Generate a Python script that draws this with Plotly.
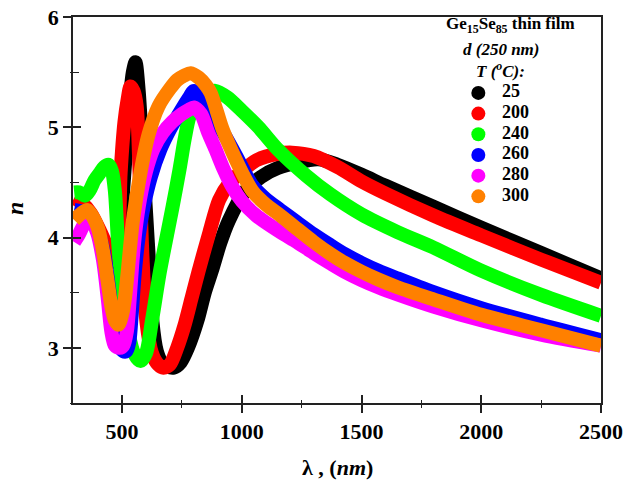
import plotly.graph_objects as go

# ---------------- data ----------------
temps = ["25", "200", "240", "260", "280", "300"]
colors = ["#000000", "#ff0000", "#00ff00", "#0000ff", "#ff00ff", "#ff8000"]

x_25 = [300, 340, 380, 420, 450, 470, 490, 510, 530, 545, 556, 569, 590, 611, 627, 645, 665, 690,
        715, 745, 775, 815, 845, 875, 910, 945, 1010, 1080, 1150, 1230, 1320, 1400, 1500, 1600,
        1800, 2000, 2250, 2500]
n_25 = [4.24, 4.21, 4.13, 3.98, 3.85, 3.78, 4.05, 4.6, 5.2, 5.5, 5.59, 5.34, 4.59, 3.83, 3.23, 2.97,
        2.87, 2.83, 2.82, 2.87, 3.0, 3.25, 3.5, 3.7, 3.95, 4.15, 4.41, 4.55, 4.63, 4.68, 4.71, 4.66,
        4.57, 4.47, 4.28, 4.09, 3.86, 3.63]

x_200 = [300, 330, 370, 410, 440, 460, 481, 494, 510, 523, 535, 548, 561, 573, 585, 602, 625, 650,
         673, 700, 730, 760, 790, 820, 865, 905, 950, 1000, 1060, 1150, 1210, 1300, 1400, 1500,
         1600, 1800, 2000, 2250, 2500]
n_200 = [4.36, 4.32, 4.22, 4.05, 3.9, 3.8, 3.92, 4.59, 5.05, 5.25, 5.37, 5.33, 5.19, 4.59, 3.83,
         3.23, 2.95, 2.85, 2.82, 2.85, 3.0, 3.2, 3.45, 3.7, 4.05, 4.34, 4.5, 4.6, 4.7, 4.76, 4.77,
         4.74, 4.64, 4.51, 4.40, 4.20, 4.02, 3.80, 3.59]

x_240 = [300, 320, 345, 365, 385, 405, 425, 443, 458, 470, 482, 494, 510, 530, 550, 577, 600, 625,
         657, 690, 711, 740, 761, 782, 810, 850, 890, 940, 1000, 1070, 1150, 1270, 1371, 1500,
         1650, 1800, 2000, 2250, 2500]
n_240 = [4.41, 4.41, 4.38, 4.43, 4.52, 4.58, 4.64, 4.66, 4.6, 4.42, 4.0, 3.68, 3.35, 3.1, 2.95,
         2.88, 2.95, 3.25, 3.68, 4.05, 4.28, 4.62, 4.89, 5.1, 5.22, 5.3, 5.33, 5.27, 5.15, 5.0, 4.8,
         4.56, 4.39, 4.21, 4.05, 3.91, 3.70, 3.48, 3.29]

x_260 = [300, 340, 370, 400, 425, 445, 465, 485, 505, 518, 530, 540, 553, 570, 590, 620, 660, 700,
         748, 780, 800, 830, 870, 917, 974, 1045, 1100, 1161, 1230, 1300, 1371, 1430, 1500, 1570,
         1650, 1800, 2000, 2250, 2500]
n_260 = [4.25, 4.23, 4.18, 4.05, 3.85, 3.55, 3.2, 3.03, 2.97, 2.97, 3.05, 3.3, 3.68, 4.02, 4.28,
         4.55, 4.80, 4.98, 5.16, 5.27, 5.33, 5.24, 5.1, 4.97, 4.75, 4.47, 4.35, 4.25, 4.14, 4.03,
         3.93, 3.85, 3.77, 3.70, 3.63, 3.505, 3.36, 3.21, 3.07]

x_280 = [300, 320, 345, 370, 395, 420, 440, 455, 470, 490, 505, 520, 532, 542, 555, 575, 600, 630,
         670, 710, 750, 780, 800, 830, 860, 890, 924, 960, 1000, 1060, 1161, 1230, 1300, 1371,
         1430, 1500, 1570, 1650, 1800, 2000, 2250, 2500]
n_280 = [3.96, 4.03, 4.13, 4.15, 4.05, 3.8, 3.45, 3.15, 3.02, 3.0, 3.02, 3.15, 3.45, 3.75, 4.05,
         4.35, 4.6, 4.8, 4.95, 5.05, 5.12, 5.16, 5.18, 5.12, 4.95, 4.8, 4.62, 4.46, 4.33, 4.2,
         4.05, 3.96, 3.86, 3.765, 3.69, 3.615, 3.55, 3.485, 3.375, 3.25, 3.12, 3.02]

x_300 = [300, 330, 355, 380, 400, 420, 440, 455, 470, 485, 500, 512, 523, 545, 577, 610, 652, 700,
         731, 760, 786, 820, 850, 870, 895, 917, 945, 974, 1010, 1045, 1100, 1161, 1230, 1300,
         1371, 1430, 1500, 1570, 1650, 1800, 2000, 2250, 2500]
n_300 = [4.16, 4.22, 4.25, 4.18, 4.08, 3.88, 3.6, 3.38, 3.25, 3.21, 3.3, 3.45, 3.68, 4.15, 4.59,
         4.93, 5.19, 5.35, 5.43, 5.47, 5.49, 5.45, 5.38, 5.31, 5.15, 5.0, 4.85, 4.71, 4.55, 4.42,
         4.30, 4.20, 4.08, 3.96, 3.85, 3.77, 3.69, 3.62, 3.55, 3.44, 3.30, 3.16, 3.02]

series_x = [x_25, x_200, x_240, x_260, x_280, x_300]
series_n = [n_25, n_200, n_240, n_260, n_280, n_300]

x_range = [295, 2500]
y_range = [2.5, 6]
x_ticks = [500, 1000, 1500, 2000, 2500]
y_ticks = [3, 4, 5, 6]

# ---------------- figure ----------------
FONT = "Liberation Serif"
fig = go.Figure()

for xs, ns, c in zip(series_x, series_n, colors):
    fig.add_trace(go.Scatter(x=xs, y=ns, mode="lines", showlegend=False,
                             line=dict(color=c, width=14, shape="spline", smoothing=0.8),
                             hoverinfo="skip"))

# legend drawn on a hidden helper axis pair (one row per temperature)
rows = list(range(len(temps)))
LEG_MARK_X = 0.274
LEG_TEXT_X = 0.414
fig.add_trace(go.Scatter(x=[LEG_MARK_X] * len(rows), y=rows, xaxis="x3", yaxis="y3", mode="markers",
                         marker=dict(color=colors, size=14), showlegend=False, hoverinfo="skip",
                         cliponaxis=False))
fig.add_trace(go.Scatter(x=[LEG_TEXT_X] * len(rows), y=rows, xaxis="x3", yaxis="y3", mode="text",
                         text=temps, textposition="middle right",
                         textfont=dict(family=FONT, size=18, color="black", weight="bold"),
                         showlegend=False, hoverinfo="skip", cliponaxis=False))

# invisible trace so the overlay tick axes are drawn
fig.add_trace(go.Scatter(x=[None], y=[None], xaxis="x2", yaxis="y2", showlegend=False, hoverinfo="skip"))

fig.update_layout(
    width=625, height=481,
    margin=dict(l=73, r=24, t=17, b=78),
    paper_bgcolor="white", plot_bgcolor="rgba(0,0,0,0)",
    font=dict(family=FONT, color="black"),
    showlegend=False,
    xaxis=dict(range=x_range, tickvals=x_ticks, ticks="outside", ticklen=8, tickwidth=1.5,
               tickcolor="#222", showgrid=False, zeroline=False, automargin=False,
               showline=True, linecolor="#222", linewidth=1.6, mirror=True,
               tickfont=dict(family=FONT, size=22, weight="bold"),
               minor=dict(dtick=250, tick0=0, ticks="outside", ticklen=3, tickcolor="#222", tickwidth=1.3)),
    xaxis2=dict(range=x_range, overlaying="x", anchor="y", side="bottom", tickvals=x_ticks,
                ticks="inside", ticklen=8, tickwidth=1.5, tickcolor="#222", showticklabels=False,
                showgrid=False, zeroline=False, showline=False, automargin=False,
                minor=dict(dtick=250, tick0=0, ticks="inside", ticklen=3, tickcolor="#222", tickwidth=1.3)),
    yaxis=dict(range=y_range, tickvals=y_ticks, ticks="outside", ticklen=8, tickwidth=1.5,
               tickcolor="#222", showgrid=False, zeroline=False, automargin=False,
               showline=True, linecolor="#222", linewidth=1.6, mirror=True,
               tickfont=dict(family=FONT, size=22, weight="bold"),
               minor=dict(dtick=0.5, tick0=0, ticks="outside", ticklen=1, tickcolor="#222", tickwidth=1.3)),
    yaxis2=dict(range=y_range, overlaying="y", anchor="x", side="left", tickvals=y_ticks,
                ticks="inside", ticklen=8, tickwidth=1.5, tickcolor="#222", showticklabels=False,
                showgrid=False, zeroline=False, showline=False, automargin=False,
                minor=dict(dtick=0.5, tick0=0, ticks="inside", ticklen=6, tickcolor="#222", tickwidth=1.3)),
    xaxis3=dict(domain=[0.68, 1.0], range=[0, 1], anchor="y3", visible=False, fixedrange=True),
    yaxis3=dict(domain=[0.5085, 0.8302], range=[len(temps) - 0.5, -0.5], anchor="x3",
                visible=False, fixedrange=True),
)

ann_font = dict(family=FONT, size=17, color="black", weight="bold")
common = dict(xref="paper", yref="paper", showarrow=False, xanchor="center", yanchor="middle")
fig.add_annotation(x=0.828, y=0.979, text="Ge<sub>15</sub>Se<sub>85</sub> thin film", font=ann_font, **common)
fig.add_annotation(x=0.811, y=0.917, text="<i>d (250 nm)</i>", font=ann_font, **common)
fig.add_annotation(x=0.809, y=0.862, text="<i>T (<sup>o</sup>C):</i>", font=ann_font, **common)
fig.add_annotation(x=0.5, y=-0.168, text="λ , (<i>nm</i>)",
                   font=dict(family=FONT, size=22, color="black", weight="bold"), **common)
fig.add_annotation(x=-0.11, y=0.505, textangle=-90, text="<i>n</i>",
                   font=dict(family=FONT, size=24, color="black", weight="bold"), **common)

fig.write_html("out.html")
